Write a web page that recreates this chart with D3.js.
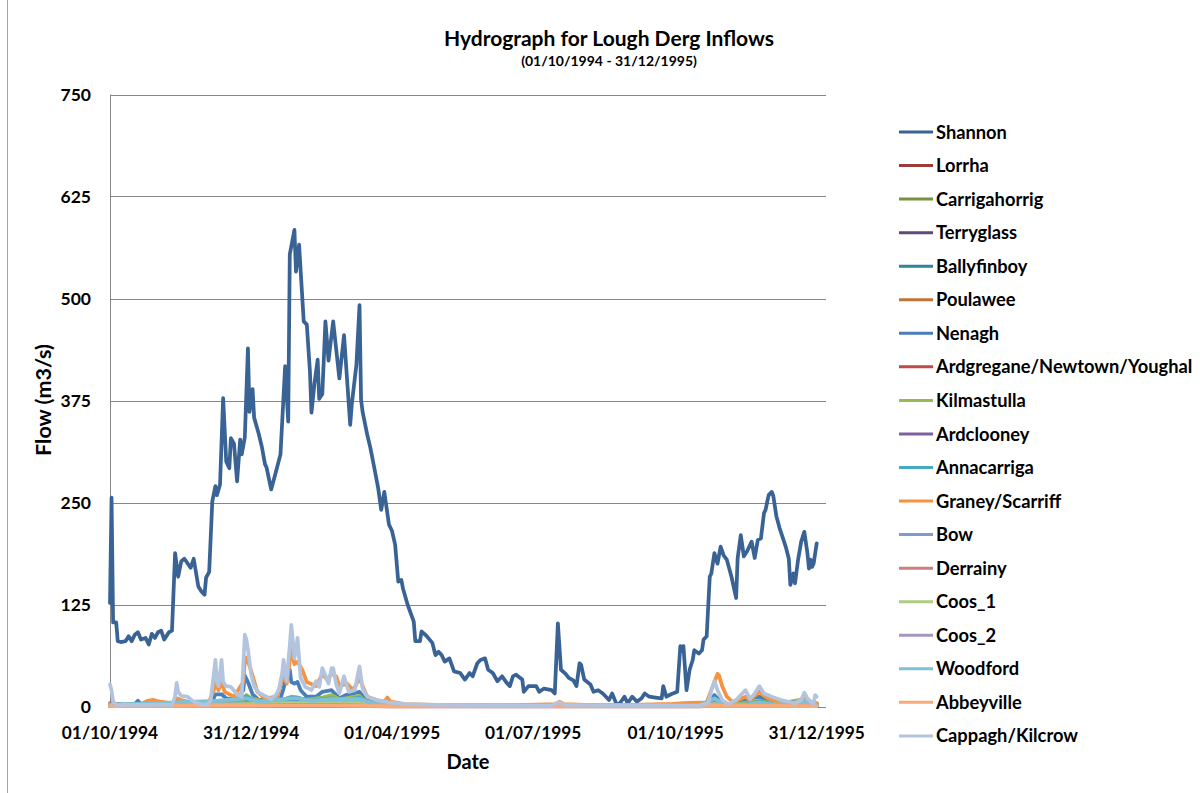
<!DOCTYPE html>
<html>
<head>
<meta charset="utf-8">
<script src="https://cdn.jsdelivr.net/npm/d3@7"></script>
<style>
  html, body { margin: 0; padding: 0; background: #fff; }
  svg { display: block; font-family: Lato, "Open Sans", sans-serif; font-weight: bold; }
</style>
</head>
<body>
<svg id="chart" width="1203" height="793"></svg>
<script>
// Hydrograph for Lough Derg inflows, daily flows from 01/10/1994
// each series is a list of [day since 01/10/1994, flow m3/s]

const startDate = "1994-10-01";
const endDate = "1996-01-06";
const xTickDates = ["1994-10-01", "1994-12-31", "1995-04-01", "1995-07-01", "1995-10-01", "1995-12-31"];
const yTicks = [0, 125, 250, 375, 500, 625, 750];

const seriesNames = [
  "Shannon", "Lorrha", "Carrigahorrig", "Terryglass", "Ballyfinboy", "Poulawee",
  "Nenagh", "Ardgregane/Newtown/Youghal", "Kilmastulla", "Ardclooney", "Annacarriga",
  "Graney/Scarriff", "Bow", "Derrainy", "Coos_1", "Coos_2", "Woodford", "Abbeyville",
  "Cappagh/Kilcrow",
];

const seriesColors = [
  "#3a6395", "#9c3b38", "#76923c", "#604a7b", "#31859c", "#c0743a",
  "#4a7ebb", "#be4b48", "#98b954", "#7d60a0", "#46aac5",
  "#f69240", "#7f9bcb", "#cd7f7d", "#b0cb85", "#a595c2", "#7cc1d7", "#f8aa78",
  "#b3c4de",
];

const shannon = [
  [0,127],[1,256],[2,103],[4,103],[5,80],[7,79],[10,80],[12,86],[14,80],[16,88],[18,91],[20,82],
  [23,84],[25,76],[27,89],[29,84],[31,91],[33,93],[35,82],[38,91],[40,93],[42,188],[44,159],[46,178],
  [48,181],[52,170],[54,181],[57,147],[59,141],[61,137],[62,158],[64,165],[66,251],[68,270],[69,259],
  [71,272],[73,378],[75,300],[77,292],[78,329],[80,322],[82,276],[84,327],[85,309],[87,330],[89,439],
  [90,361],[92,389],[93,354],[96,334],[98,318],[100,297],[101,293],[104,266],[106,280],[110,309],
  [113,417],[115,349],[116,554],[119,584],[120,533],[122,566],[125,472],[127,468],[129,411],[130,360],
  [132,397],[134,425],[135,377],[137,383],[139,472],[141,424],[144,472],[148,402],[151,455],[155,345],
  [156,370],[159,419],[161,492],[162,376],[163,361],[166,333],[168,317],[171,288],[173,268],[175,241],
  [177,263],[180,223],[182,215],[184,198],[186,153],[188,155],[189,145],[192,125],[196,104],[197,80],
  [200,80],[201,92],[204,87],[208,78],[210,63],[212,67],[214,63],[216,55],[219,59],[222,43],[226,41],
  [229,33],[232,41],[234,37],[237,53],[239,57],[242,59],[244,45],[247,41],[250,31],[253,37],[256,29],
  [258,25],[260,37],[262,39],[266,33],[267,18],[270,25],[275,25],[277,18],[280,22],[285,20],[287,16],
  [289,102],[291,45],[294,40],[296,35],[299,32],[301,25],[303,53],[304,51],[306,33],[310,27],[312,18],
  [315,20],[318,16],[322,8],[324,16],[327,2],[329,4],[332,12],[334,4],[337,12],[340,6],[343,10],
  [345,16],[348,12],[352,11],[356,10],[357,25],[359,12],[362,15],[366,18],[368,74],[369,68],[370,74],
  [372,20],[374,45],[376,57],[377,69],[380,65],[382,69],[383,82],[385,86],[387,159],[388,163],[390,188],
  [392,175],[394,196],[396,185],[398,180],[401,159],[404,133],[405,182],[407,210],[409,184],[411,190],
  [414,202],[416,182],[418,204],[420,206],[422,237],[423,241],[425,259],[427,263],[428,258],[430,233],
  [432,219],[436,196],[438,181],[439,149],[441,163],[442,151],[444,180],[446,202],[448,214],[450,188],
  [451,169],[452,180],[453,171],[454,175],[456,200],
];
const lorrha = [[0,1],[43,2],[88,3],[117,3],[143,3],[161,3],[180,1],[200,0.5],[380,0.5],[390,2],[448,2],[456,1]];
const carrigahorrig = [[0,1],[40,1],[68,4],[88,10],[100,5],[117,9],[121,9],[137,9],[143,12],[152,8],[161,11],[170,4],[200,1],[380,0.5],[390,4],[400,1],[419,6],[430,2],[448,8],[456,3]];
const terryglass = [[0,1],[88,2],[117,2],[143,2],[180,0.5],[380,0.5],[390,1],[448,1],[456,1]];
const ballyfinboy = [[0,2],[43,3],[68,5],[88,8],[117,8],[121,8],[137,7],[143,8],[161,8],[175,3],[200,1],[380,0.5],[390,5],[400,1],[419,5],[430,2],[448,6],[456,3]];
const poulawee = [[0,1],[88,4],[117,5],[121,4],[143,4],[161,4],[180,1],[200,0.5],[380,0.5],[390,4],[400,1],[419,2],[448,2],[456,1]];
const nenagh = [
  [0,4],[10,2],[16,3],[18,7],[20,3],[40,3],[43,8],[46,5],[60,3],[66,6],[68,15],[72,15],[75,10],[82,8],
  [86,20],[87,38],[89,30],[92,15],[96,8],[104,6],[110,10],[112,22],[114,38],[116,45],[117,30],[119,28],
  [121,30],[123,20],[127,12],[133,12],[137,18],[143,20],[148,10],[152,14],[161,18],[164,10],[170,5],
  [190,2],[250,1],[289,2],[380,1],[388,8],[390,14],[393,8],[400,2],[410,8],[419,12],[425,5],[440,2],
  [446,6],[448,14],[451,4],[456,3],
];
const ardgregane = [[0,0.5],[88,1],[117,1.5],[143,1],[180,0.3],[380,0.3],[390,1],[456,0.5]];
const kilmastulla = [[0,2],[40,2],[43,4],[60,2],[67,5],[72,6],[85,6],[88,14],[91,10],[100,6],[112,8],[117,12],[121,11],[126,8],[137,11],[143,14],[148,9],[152,10],[161,13],[165,6],[175,3],[200,1],[380,1],[390,5],[400,2],[419,7],[430,3],[448,9],[452,3],[456,4]];
const ardclooney = [[0,0.5],[88,1.5],[117,2],[143,2],[161,2],[180,0.5],[380,0.5],[390,1],[448,1],[456,0.5]];
const annacarriga = [[0,2],[43,4],[68,6],[72,6],[88,12],[95,6],[112,9],[117,11],[121,11],[128,7],[137,9],[143,10],[152,8],[161,11],[166,5],[180,2],[250,1],[380,1],[390,8],[395,3],[410,2],[419,6],[430,2],[448,7],[456,3]];
const graney = [
  [0,3],[10,2],[20,3],[24,7],[28,8],[32,6],[36,5],[40,3],[43,10],[46,8],[50,6],[55,4],[63,2],[67,20],
  [68,30],[70,20],[72,30],[74,18],[80,12],[86,30],[87,55],[88,60],[90,50],[92,38],[95,18],[100,10],
  [108,12],[112,40],[114,28],[117,70],[119,52],[121,55],[124,45],[127,30],[133,25],[137,40],[140,33],
  [143,40],[146,37],[148,25],[153,28],[157,20],[161,35],[163,25],[166,12],[172,8],[177,6],[179,11],
  [181,6],[190,3],[210,2],[250,1],[288,3],[290,6],[293,3],[320,1],[356,3],[362,3],[370,4],[385,5],
  [388,20],[390,30],[392,40],[393,38],[395,25],[398,12],[402,5],[410,12],[413,8],[419,18],[423,12],
  [430,6],[440,3],[448,10],[452,5],[456,4],
];
const bow = [[0,1],[88,4],[117,5],[121,5],[143,5],[161,5],[180,1],[200,0.5],[380,0.5],[390,4],[400,1],[419,3],[430,1],[448,3],[456,1]];
const derrainy = [[0,0.5],[88,1],[117,1],[143,1],[180,0.5],[380,0.5],[390,1],[456,0.5]];
const coos1 = [[0,0.5],[88,3],[117,4],[143,4],[161,4],[180,1],[200,0.5],[380,0.5],[390,3],[400,1],[448,3],[456,1]];
const coos2 = [[0,0.5],[88,1],[117,2],[143,2],[180,0.5],[380,0.5],[390,1],[456,0.5]];
const woodford = [[0,2],[43,5],[68,7],[88,10],[96,6],[117,10],[121,10],[130,7],[137,8],[143,9],[161,9],[170,4],[190,1],[380,1],[390,10],[396,3],[410,2],[419,5],[430,2],[448,6],[456,2]];
const abbeyville = [[0,0.5],[88,1],[117,1],[143,1],[180,0.5],[380,0.5],[390,1],[456,0.5]];
const cappagh = [
  [0,27],[1,20],[2,6],[4,2],[20,2],[40,2],[42,12],[43,29],[44,18],[46,13],[50,12],[54,6],[58,3],[63,2],
  [65,8],[67,40],[68,57],[69,30],[70,25],[71,40],[72,57],[73,30],[75,25],[78,24],[82,15],[85,12],
  [86,50],[87,88],[88,82],[89,70],[91,40],[93,25],[96,17],[100,13],[104,9],[107,14],[109,21],[111,40],
  [112,57],[113,40],[114,31],[116,75],[117,100],[118,80],[119,59],[120,70],[121,84],[122,60],[123,35],
  [126,24],[130,20],[133,31],[135,24],[137,47],[139,38],[141,28],[143,47],[144,47],[146,27],[148,16],
  [151,37],[154,18],[158,20],[160,40],[161,49],[162,35],[163,22],[166,12],[172,8],[180,5],[190,3],
  [210,2],[285,1],[288,4],[290,5],[293,2],[380,1],[386,4],[388,20],[390,31],[392,20],[395,8],[399,3],
  [404,8],[407,14],[410,20],[413,9],[416,16],[419,25],[422,16],[427,12],[433,8],[442,4],[446,8],
  [448,17],[450,10],[452,6],[454,3],[455,14],[456,12],
];

const seriesData = [
  shannon, lorrha, carrigahorrig, terryglass, ballyfinboy, poulawee, nenagh, ardgregane,
  kilmastulla, ardclooney, annacarriga, graney, bow, derrainy, coos1, coos2, woodford,
  abbeyville, cappagh,
];

(function () {
  const svg = d3.select("#chart");
  const W = 1203, H = 793;
  const plot = { left: 110, right: 826, top: 94.5, bottom: 706.5 };

  const parse = d3.utcParse("%Y-%m-%d");
  const fmt = d3.utcFormat("%d/%m/%Y");
  const t0 = parse(startDate);

  const x = d3.scaleUtc()
    .domain([t0, parse(endDate)])
    .range([plot.left, plot.right]);
  const y = d3.scaleLinear()
    .domain([0, 750])
    .range([plot.bottom, plot.top]);

  // chart frame
  svg.append("line")
    .attr("x1", 7.5).attr("x2", 7.5).attr("y1", 0).attr("y2", H)
    .attr("stroke", "#a6a6a6").attr("stroke-width", 1);

  // gridlines
  svg.append("g")
    .selectAll("line")
    .data(yTicks)
    .join("line")
    .attr("x1", plot.left).attr("x2", plot.right)
    .attr("y1", (d) => Math.round(y(d)) + 0.5)
    .attr("y2", (d) => Math.round(y(d)) + 0.5)
    .attr("stroke", "#868686")
    .attr("stroke-width", 1);

  // y axis line
  svg.append("line")
    .attr("x1", plot.left + 0.5).attr("x2", plot.left + 0.5)
    .attr("y1", plot.top).attr("y2", plot.bottom + 0.5)
    .attr("stroke", "#868686");

  // y tick labels
  svg.append("g")
    .selectAll("text")
    .data(yTicks)
    .join("text")
    .attr("x", 91)
    .attr("y", (d) => y(d))
    .attr("dy", "0.36em")
    .attr("text-anchor", "end")
    .attr("font-size", 17.5)
    .text((d) => d);

  // x tick labels
  svg.append("g")
    .selectAll("text")
    .data(xTickDates.map(parse))
    .join("text")
    .attr("x", (d) => x(d))
    .attr("y", 739)
    .attr("text-anchor", "middle")
    .attr("font-size", 17.3)
    .text((d) => fmt(d));

  // series lines
  const line = d3.line()
    .x((d) => x(d3.utcDay.offset(t0, d[0])))
    .y((d) => y(d[1]));

  svg.append("g")
    .attr("fill", "none")
    .attr("stroke-width", 3.75)
    .attr("stroke-linejoin", "round")
    .attr("stroke-linecap", "round")
    .selectAll("path")
    .data(seriesData)
    .join("path")
    .attr("stroke", (d, i) => seriesColors[i])
    .attr("d", line);

  // titles
  svg.append("text")
    .attr("x", 609).attr("y", 46)
    .attr("text-anchor", "middle")
    .attr("font-size", 21)
    .text("Hydrograph for Lough Derg Inflows");
  svg.append("text")
    .attr("x", 609).attr("y", 66)
    .attr("text-anchor", "middle")
    .attr("font-size", 14)
    .text("(01/10/1994 - 31/12/1995)");

  svg.append("text")
    .attr("x", 468).attr("y", 769)
    .attr("text-anchor", "middle")
    .attr("font-size", 20)
    .text("Date");

  svg.append("text")
    .attr("transform", "translate(51,400) rotate(-90)")
    .attr("text-anchor", "middle")
    .attr("font-size", 21.5)
    .text("Flow (m3/s)");

  // legend
  const legend = svg.append("g")
    .selectAll("g")
    .data(seriesNames)
    .join("g")
    .attr("transform", (d, i) => `translate(0,${132 + i * 33.55})`);

  legend.append("line")
    .attr("x1", 899).attr("x2", 933)
    .attr("stroke", (d, i) => seriesColors[i])
    .attr("stroke-width", 3);

  legend.append("text")
    .attr("x", 936)
    .attr("dy", "0.36em")
    .attr("font-size", 18.3)
    .text((d) => d);
})();
</script>
</body>
</html>
